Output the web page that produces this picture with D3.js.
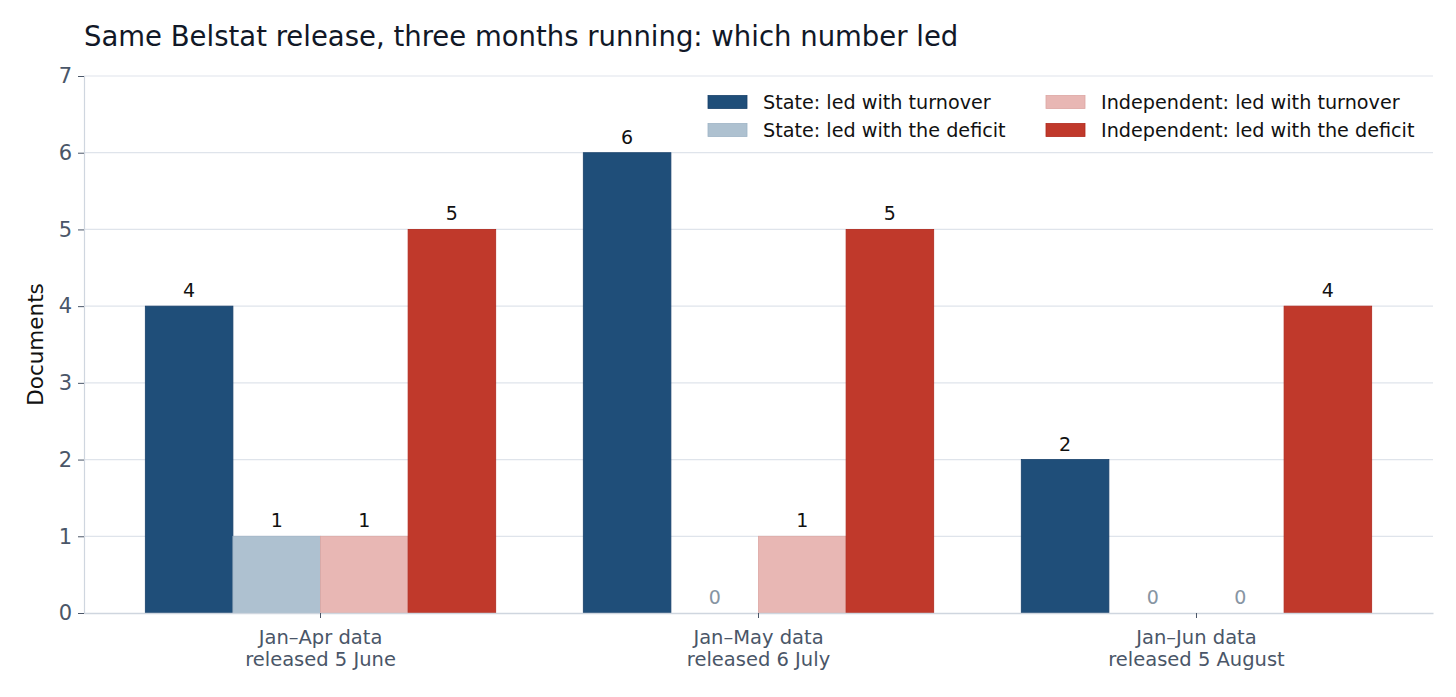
<!DOCTYPE html>
<html>
<head>
<meta charset="utf-8">
<script src="https://cdn.jsdelivr.net/npm/d3@7"></script>
<style>
	body { margin: 0; background: #fff; }
	svg { font-family: 'DejaVu Sans', sans-serif; }
</style>
</head>
<body>
<svg id="chart" width="1456" height="697"></svg>
<script>
// release months (two-line tick labels)
const releases = [
	['Jan\u2013Apr data', 'released 5 June'],
	['Jan\u2013May data', 'released 6 July'],
	['Jan\u2013Jun data', 'released 5 August'],
];
const seriesNames = [
	'State: led with turnover',
	'State: led with the deficit',
	'Independent: led with turnover',
	'Independent: led with the deficit',
];
const stateTurnover = [4, 6, 2];
const stateDeficit = [1, 0, 0];
const indepTurnover = [1, 1, 0];
const indepDeficit = [5, 5, 4];
const yTicks = [0, 1, 2, 3, 4, 5, 6, 7];

const fills = ['#1f4e79', '#aec1d0', '#e8b7b4', '#c0392b'];
const strokes = ['#17406a', '#9fb3c5', '#dca6a2', '#b0281c'];

const values = [stateTurnover, stateDeficit, indepTurnover, indepDeficit];

const margin = { left: 84, right: 23, top: 76, bottom: 84 };
const W = 1456, H = 697;
const svg = d3.select('#chart');

const x = d3.scaleBand()
	.domain(d3.range(releases.length))
	.range([margin.left, W - margin.right])
	.paddingInner(0.2)
	.paddingOuter(0.14);
const xs = d3.scaleBand()
	.domain(d3.range(seriesNames.length))
	.range([0, x.bandwidth()]);
const y = d3.scaleLinear().domain([0, 7]).range([H - margin.bottom, margin.top]);

// gridlines
svg.append('g')
	.selectAll('line')
	.data(yTicks.slice(1))
	.join('line')
	.attr('x1', margin.left)
	.attr('x2', W - margin.right)
	.attr('y1', (d) => y(d))
	.attr('y2', (d) => y(d))
	.attr('stroke', '#dfe4eb')
	.attr('stroke-width', 1.2);

// bars
const groups = svg.append('g')
	.selectAll('g')
	.data(seriesNames.map((name, i) => ({ name, i, vals: values[i] })))
	.join('g');

groups.selectAll('rect')
	.data((s) => s.vals.map((v, j) => ({ v, j, i: s.i })))
	.join('rect')
	.attr('x', (d) => x(d.j) + xs(d.i))
	.attr('width', xs.bandwidth())
	.attr('y', (d) => y(d.v))
	.attr('height', (d) => y(0) - y(d.v))
	.attr('fill', (d) => fills[d.i])
	.attr('stroke', (d) => (d.v > 0 ? strokes[d.i] : 'none'))
	.attr('stroke-width', 0.8);

groups.selectAll('text')
	.data((s) => s.vals.map((v, j) => ({ v, j, i: s.i })))
	.join('text')
	.attr('x', (d) => x(d.j) + xs(d.i) + xs.bandwidth() / 2)
	.attr('y', (d) => y(d.v) - 9)
	.attr('text-anchor', 'middle')
	.attr('font-size', 19)
	.attr('fill', (d) => (d.v === 0 ? '#8795a3' : '#111'))
	.text((d) => d.v);

// y axis
const yAxis = svg.append('g')
	.attr('transform', `translate(${margin.left},0)`)
	.call(d3.axisLeft(y).tickValues(yTicks).tickFormat(d3.format('d')).tickSize(6).tickPadding(6));
yAxis.select('.domain').attr('stroke', '#cfd6df').attr('stroke-width', 1.2);
yAxis.selectAll('.tick line').attr('stroke', '#4a5668');
yAxis.selectAll('.tick text')
	.attr('font-size', 21)
	.attr('fill', '#4a5668')
	.attr('font-family', 'DejaVu Sans');

// x axis
const xAxis = svg.append('g')
	.attr('transform', `translate(0,${y(0)})`)
	.call(d3.axisBottom(x).tickFormat('').tickSize(5).tickSizeOuter(0));
xAxis.select('.domain').attr('stroke', '#cfd6df').attr('stroke-width', 1.5);
xAxis.selectAll('.tick line').attr('stroke', '#4a5668');
xAxis.selectAll('.tick')
	.append('text')
	.attr('text-anchor', 'middle')
	.attr('font-size', 19.5)
	.attr('fill', '#4a5668')
	.attr('font-family', 'DejaVu Sans')
	.selectAll('tspan')
	.data((d) => releases[d])
	.join('tspan')
	.attr('x', 0)
	.attr('y', (d, k) => 31 + k * 22)
	.text((d) => d);

// y label
svg.append('text')
	.attr('transform', `translate(43,${(y(0) + y(7)) / 2}) rotate(-90)`)
	.attr('text-anchor', 'middle')
	.attr('font-size', 21.5)
	.attr('fill', '#111')
	.text('Documents');

// title
svg.append('text')
	.attr('x', margin.left)
	.attr('y', 46)
	.attr('font-size', 27.5)
	.attr('fill', '#111827')
	.text('Same Belstat release, three months running: which number led');

// legend
const legendPos = [[708, 102], [708, 130], [1046, 102], [1046, 130]];
const legend = svg.append('g')
	.selectAll('g')
	.data(seriesNames)
	.join('g')
	.attr('transform', (d, i) => `translate(${legendPos[i][0]},${legendPos[i][1]})`);
legend.append('rect')
	.attr('x', 0)
	.attr('y', -6.5)
	.attr('width', 39)
	.attr('height', 13)
	.attr('fill', (d, i) => fills[i])
	.attr('stroke', (d, i) => strokes[i])
	.attr('stroke-width', 0.8);
legend.append('text')
	.attr('x', 55)
	.attr('y', 7)
	.attr('font-size', 19.2)
	.attr('fill', '#111')
	.text((d) => d);
</script>
</body>
</html>
